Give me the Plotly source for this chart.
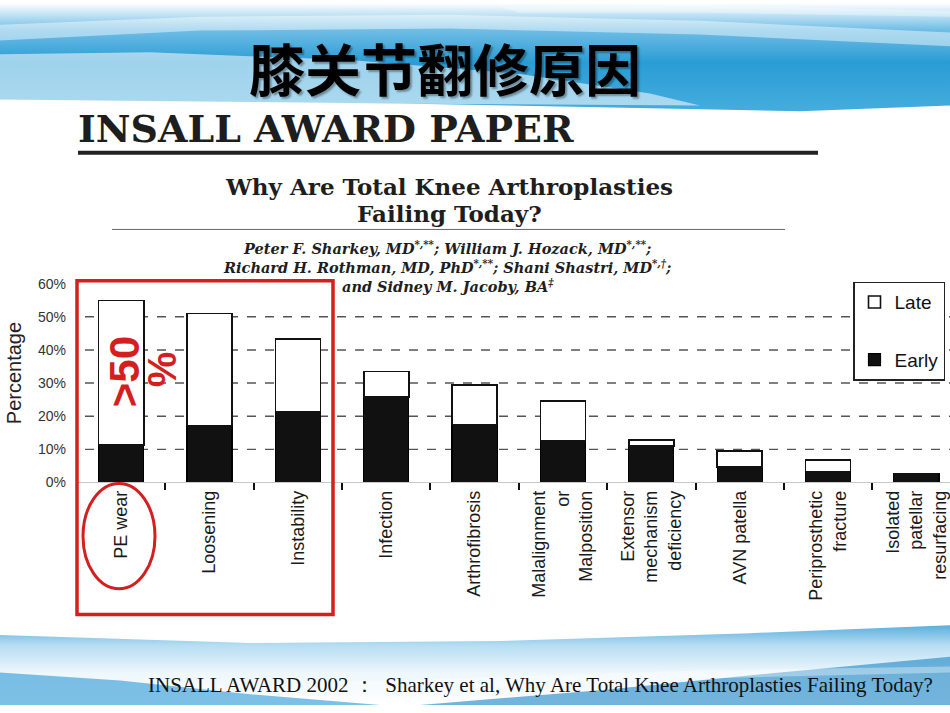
import plotly.graph_objects as go

W, H = 950, 713

# ---------------- data ----------------
CATEGORIES = ["PE wear", "Loosening", "Instability", "Infection", "Arthrofibrosis",
              "Malalignment<br>or<br>Malposition", "Extensor<br>mechanism<br>deficiency",
              "AVN patella", "Periprosthetic<br>fracture", "Isolated<br>patellar<br>resurfacing"]
EARLY = [11.3, 17.2, 21.4, 25.8, 17.5, 12.5, 11.0, 4.7, 3.3, 2.7]
LATE = [43.6, 33.8, 21.9, 7.7, 11.9, 12.1, 1.8, 4.8, 3.5, 0.0]
Y_TICKS = [0, 10, 20, 30, 40, 50, 60]
Y_TICK_LABELS = ["0%", "10%", "20%", "30%", "40%", "50%", "60%"]
GRID_VALUES = [10, 20, 30, 40, 50]

TITLE = "膝关节翻修原因"
PAPER_HEAD = "INSALL AWARD PAPER"
PAPER_TITLE = ["Why Are Total Knee Arthroplasties", "Failing Today?"]
AUTHORS = ["Peter F. Sharkey, MD<sup>*,**</sup>; William J. Hozack, MD<sup>*,**</sup>;",
           "Richard H. Rothman, MD, PhD<sup>*,**</sup>; Shani Shastri, MD<sup>*,†</sup>;",
           "and Sidney M. Jacoby, BA<sup>‡</sup>"]
FOOTER = "INSALL AWARD 2002 ：  Sharkey et al, Why Are Total Knee Arthroplasties Failing Today?"


def px(x):
    return x / W


def py(y):
    return 1 - y / H


RED = "#d41f1f"
fig = go.Figure()

# ---------------- slide background (pixel space on x/y) ----------------
bg = dict(xaxis="x", yaxis="y", mode="lines", line=dict(width=0), fill="toself",
          hoverinfo="skip", showlegend=False)
fig.add_trace(go.Scatter(x=[0, 950, 950, 800, 600, 400, 200, 0],
                         y=[0, 0, 104, 110, 106, 102, 100, 98],
                         fillgradient=dict(type="vertical",
                                           colorscale=[[0, "#45addd"], [0.45, "#2a9cd5"],
                                                       [0.75, "#6fbde5"], [1, "#ffffff"]]),
                         **bg))
fig.add_trace(go.Scatter(x=[0, 200, 450, 700, 950, 950, 700, 450, 200, 0],
                         y=[22, 14, 12, 18, 30, 44, 32, 26, 28, 38],
                         fillcolor="rgba(255,255,255,0.45)", **bg))
fig.add_trace(go.Scatter(x=[0, 150, 350, 520, 650, 700, 0],
                         y=[52, 50, 58, 72, 92, 104, 100],
                         fillcolor="rgba(255,255,255,0.55)", **bg))
fig.add_trace(go.Scatter(x=[500, 700, 950, 950, 700, 520],
                         y=[4, 2, 8, 14, 10, 10],
                         fillcolor="rgba(255,255,255,0.35)", **bg))
fig.add_trace(go.Scatter(x=[0, 250, 500, 750, 950, 950, 0],
                         y=[642, 650, 648, 640, 632, 713, 713],
                         fillgradient=dict(type="vertical",
                                           colorscale=[[0, "#ffffff"], [0.4, "#eef7fc"],
                                                       [0.75, "#b6ddf2"], [1, "#5aaede"]]),
                         **bg))
fig.add_trace(go.Scatter(x=[0, 120, 250, 380, 0],
                         y=[680, 688, 702, 713, 713],
                         fillcolor="rgba(70,165,218,0.7)", **bg))
fig.add_trace(go.Scatter(x=[420, 600, 780, 950, 950],
                         y=[713, 698, 680, 664, 713],
                         fillcolor="rgba(40,140,200,0.65)", **bg))
fig.add_trace(go.Scatter(x=[300, 500, 700, 950, 950, 700, 500],
                         y=[692, 684, 678, 674, 680, 686, 694],
                         fillcolor="rgba(255,255,255,0.35)", **bg))

# ---------------- bars ----------------
fig.add_trace(go.Bar(name="Early", x=CATEGORIES, y=EARLY, xaxis="x2", yaxis="y2",
                     marker=dict(color="#111111", line=dict(color="#000000", width=1.2)),
                     width=0.51, legendgroup="e", legendrank=2, hoverinfo="skip"))
fig.add_trace(go.Bar(name="Late", x=CATEGORIES, y=LATE, xaxis="x2", yaxis="y2",
                     marker=dict(color="#ffffff", line=dict(color="#111111", width=1.6)),
                     width=0.51, legendgroup="l", legendrank=1, hoverinfo="skip"))

shapes = []
for v in GRID_VALUES:
    shapes.append(dict(type="line", xref="paper", yref="y2", x0=px(85), x1=1, y0=v, y1=v,
                       line=dict(color="#555555", width=1.4, dash="dash"), layer="below"))
shapes.append(dict(type="line", xref="paper", yref="paper", x0=px(78), x1=px(818),
                   y0=py(152), y1=py(152), line=dict(color="#222222", width=4)))
shapes.append(dict(type="line", xref="paper", yref="paper", x0=px(112), x1=px(785),
                   y0=py(230), y1=py(230), line=dict(color="#666666", width=1)))
shapes.append(dict(type="rect", xref="paper", yref="paper", x0=px(77), x1=px(333),
                   y0=py(282), y1=py(621), line=dict(color=RED, width=3.5), layer="above"))
shapes.append(dict(type="circle", xref="paper", yref="paper", x0=px(83), x1=px(155),
                   y0=py(488), y1=py(595), line=dict(color=RED, width=3), layer="above"))


def note(text, x, y, size, family, color="#1e1e1e", angle=0, xanchor="center", **kw):
    return dict(text=text, x=px(x), y=py(y), xref="paper", yref="paper", showarrow=False,
                xanchor=xanchor, yanchor="middle", textangle=angle,
                font=dict(family=family, size=size, color=color, **kw))


annotations = [
    note(TITLE, 445, 65, 56, "Noto Sans CJK SC", "#000000", weight="bold",
         shadow="2px 2px 2px rgba(0,0,0,0.35)"),
    note("<b>" + PAPER_HEAD + "</b>", 76, 127, 38, "DejaVu Serif", xanchor="left"),
    note("<b>" + PAPER_TITLE[0] + "</b>", 449, 186, 23, "DejaVu Serif"),
    note("<b>" + PAPER_TITLE[1] + "</b>", 449, 214, 23, "DejaVu Serif"),
    note("<b><i>" + "<br>".join(AUTHORS) + "</i></b>", 447, 268, 14.5, "DejaVu Serif"),
    note("Percentage", 14, 376, 20, "Liberation Sans", "#222222", angle=-90),
    note("<b>&gt;50</b>", 124, 375, 42, "Liberation Sans", RED, angle=-90),
    note("<b>%</b>", 162, 372, 40, "Liberation Sans", RED, angle=-90),
    note(FOOTER, 540, 693, 21, "Liberation Serif", "#111111"),
]

fig.update_layout(
    width=W, height=H,
    margin=dict(l=0, r=0, t=0, b=0),
    paper_bgcolor="#ffffff", plot_bgcolor="rgba(0,0,0,0)",
    barmode="stack", bargap=0.49,
    xaxis=dict(domain=[0, 1], range=[0, W], visible=False, fixedrange=True),
    yaxis=dict(domain=[0, 1], range=[H, 0], visible=False, fixedrange=True),
    xaxis2=dict(domain=[px(77), 1], range=[-0.5, 9.38], anchor="y2", type="category",
                tickangle=-90, ticks="outside", tickson="boundaries", ticklen=7,
                tickwidth=1.5, tickcolor="#111111", showline=True, linecolor="#c8c8c8",
                linewidth=1, showgrid=False, zeroline=False,
                tickfont=dict(family="Liberation Sans", size=18, color="#1a1a1a")),
    yaxis2=dict(domain=[py(487), py(280)], range=[0, 61.5], anchor="x2",
                tickmode="array", tickvals=Y_TICKS, ticktext=Y_TICK_LABELS,
                showgrid=False, zeroline=False, showline=False, ticks="",
                ticklabelstandoff=10,
                tickfont=dict(family="Liberation Sans", size=14, color="#333333")),
    legend=dict(x=px(853), y=py(283), xanchor="left", yanchor="top",
                bgcolor="#ffffff", bordercolor="#222222", borderwidth=1.5,
                traceorder="grouped", tracegroupgap=30, itemwidth=30,
                font=dict(family="Liberation Sans", size=19, color="#111111")),
    shapes=shapes,
    annotations=annotations,
)

fig.write_html("out.html", config={"displayModeBar": False},
               post_script="document.body.style.margin='0';document.body.style.overflow='hidden';")
